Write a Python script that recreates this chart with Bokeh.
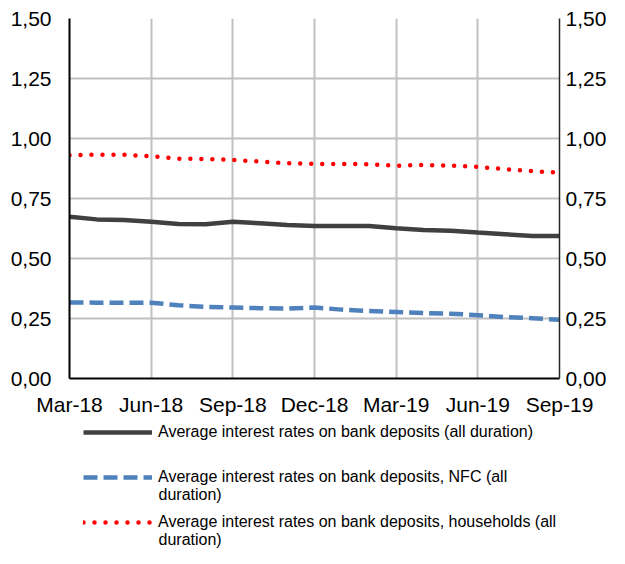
from bokeh.plotting import figure
from bokeh.layouts import column
from bokeh.models import (Range1d, LinearAxis, FixedTicker, CustomJSTickFormatter,
                          Legend, LegendItem, Label)
from bokeh.embed import file_html
from bokeh.resources import INLINE

months = ["Mar-18", "Apr-18", "May-18", "Jun-18", "Jul-18", "Aug-18", "Sep-18",
          "Oct-18", "Nov-18", "Dec-18", "Jan-19", "Feb-19", "Mar-19", "Apr-19",
          "May-19", "Jun-19", "Jul-19", "Aug-19", "Sep-19"]
all_dur = [0.674, 0.663, 0.660, 0.653, 0.644, 0.643, 0.653, 0.647, 0.640, 0.635,
           0.635, 0.635, 0.626, 0.619, 0.616, 0.608, 0.601, 0.594, 0.594]
nfc = [0.317, 0.316, 0.316, 0.316, 0.305, 0.298, 0.296, 0.293, 0.291, 0.296,
       0.287, 0.281, 0.277, 0.273, 0.270, 0.264, 0.256, 0.251, 0.245]
households = [0.930, 0.933, 0.932, 0.926, 0.916, 0.914, 0.911, 0.904, 0.897, 0.894,
              0.894, 0.893, 0.886, 0.890, 0.887, 0.882, 0.872, 0.864, 0.858]
y_ticks = [0.0, 0.25, 0.5, 0.75, 1.0, 1.25, 1.5]
labels = ["Average interest rates on bank deposits (all duration)",
          "Average interest rates on bank deposits, NFC (all",
          "Average interest rates on bank deposits, households (all"]
label_wrap = ["", "duration)", "duration)"]

x = list(range(len(months)))
FONT = "Liberation Sans"
styles = [dict(line_color="#404040", line_width=4.5),
          dict(line_color="#4f81bd", line_width=4.5, line_dash="14 6"),
          dict(line_color="#ff0000", line_width=4.5, line_dash="0 11", line_cap="round")]
series = [all_dur, nfc, households]

p = figure(width=609, height=420, output_backend="svg", toolbar_location=None,
           x_range=Range1d(0, len(months) - 1), y_range=Range1d(0, 1.5),
           min_border_left=69, min_border_right=48, min_border_top=18,
           min_border_bottom=42, outline_line_color=None)

fmt = CustomJSTickFormatter(code="return tick.toFixed(2).replace('.', ',');")

xt = [i for i in x if i % 3 == 0]
p.xaxis.ticker = FixedTicker(ticks=xt)
p.xaxis.major_label_overrides = {i: months[i] for i in xt}
p.yaxis.ticker = FixedTicker(ticks=y_ticks)
p.yaxis.formatter = fmt

ra = LinearAxis(ticker=FixedTicker(ticks=y_ticks), formatter=fmt)
p.add_layout(ra, "right")

for ax in [p.xaxis[0], p.yaxis[0], ra]:
    ax.major_tick_line_color = None
    ax.minor_tick_line_color = None
    ax.major_tick_out = 0
    ax.major_tick_in = 0
    ax.minor_tick_out = 0
    ax.minor_tick_in = 0
    ax.major_label_text_font = FONT
    ax.major_label_text_font_size = "21px"
    ax.major_label_text_color = "#000000"
p.xaxis.axis_line_color = "#000000"
p.xaxis.axis_line_width = 2
p.yaxis[0].axis_line_color = "#000000"
p.yaxis[0].axis_line_width = 2
ra.axis_line_color = "#262626"
ra.axis_line_width = 1.5
p.yaxis[0].major_label_standoff = 18
ra.major_label_standoff = 6
p.xaxis.major_label_standoff = 14

p.xgrid.ticker = FixedTicker(ticks=xt)
p.ygrid.ticker = FixedTicker(ticks=y_ticks)
for g in [p.xgrid[0], p.ygrid[0]]:
    g.grid_line_color = "#c0c0c0"
    g.grid_line_width = 2

for s, st in zip(series, styles):
    p.line(x, s, **st)

# legend panel (its lines lie outside its view, only the legend is seen)
lg = figure(width=609, height=128, output_backend="svg", toolbar_location=None,
            x_axis_type=None, y_axis_type=None, outline_line_color=None,
            x_range=Range1d(100, 101), y_range=Range1d(100, 101),
            min_border_left=0, min_border_right=0, min_border_top=0, min_border_bottom=0)
lg.xgrid.visible = False
lg.ygrid.visible = False
items = []
for lab, s, st in zip(labels, series, styles):
    r = lg.line(x, s, **st)
    items.append(LegendItem(label=lab, renderers=[r]))

legend = Legend(items=items, location=(14, 16), orientation="vertical",
                glyph_width=69, glyph_height=20, label_standoff=6,
                spacing=25, padding=0, margin=0,
                border_line_color=None, background_fill_alpha=0,
                label_text_font=FONT, label_text_font_size="16px",
                label_text_color="#000000")
lg.add_layout(legend, "center")

for txt, yy in zip(label_wrap, [0, 54, 9]):
    if txt:
        lg.add_layout(Label(x=89, y=yy, x_units="screen", y_units="screen", text=txt,
                            text_font=FONT, text_font_size="16px", text_color="#000000",
                            text_baseline="middle"))

layout = column(p, lg, spacing=0)
open("out.html", "w").write(file_html(layout, INLINE))
